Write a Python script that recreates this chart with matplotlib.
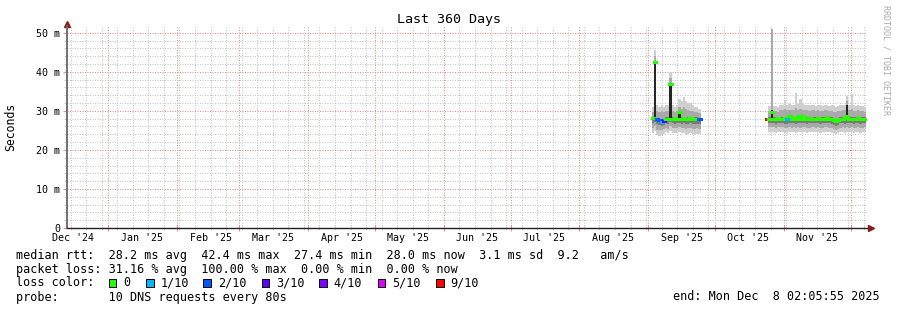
import numpy as np
import matplotlib.pyplot as plt
from matplotlib.patches import Rectangle
from matplotlib.transforms import blended_transform_factory
from datetime import datetime, timedelta

# time frame of the graph (360 days, ending Dec 8 2025)
t0 = datetime(2024, 12, 13, 10, 0)
t_end = t0 + timedelta(days=360)

# first block of data, one value per day
seg1_start = datetime(2025, 9, 2, 12, 0)
med1 = [28.1, 42.4, 27.8, 27.6, 27.2, 27.5, 28.0, 28.0, 36.9, 28.0, 28.1,
        28.0, 29.6, 28.0, 28.1, 28.0, 28.0, 28.1, 28.0, 28.0, 28.0, 27.9]
loss1 = [0, 0, 2, 2, 1, 3, 0, 0, 0, 0, 0, 0, 0, 0, 0, 0, 0, 0, 0, 0, 0, 2]
hi1 = [31.0, 45.6, 31.5, 31.0, 31.5, 31.0, 31.5, 31.5, 39.9, 31.5, 31.0,
       31.5, 33.0, 32.5, 33.5, 32.5, 32.0, 32.0, 31.5, 31.0, 31.0, 30.5]
mhi1 = [29.8, 44.0, 30.0, 29.8, 30.0, 29.8, 30.0, 30.0, 38.5, 30.0, 29.8,
        30.0, 31.0, 30.5, 31.0, 30.5, 30.2, 30.0, 30.0, 29.8, 29.8, 29.5]
dhi1 = [28.4, 42.4, 28.2, 28.0, 27.8, 28.0, 28.4, 28.4, 36.9, 28.4, 28.4,
        28.4, 29.6, 28.4, 28.4, 28.4, 28.4, 28.4, 28.4, 28.3, 28.3, 28.2]
dlo1 = [26.8, 27.2, 26.5, 26.3, 26.2, 26.4, 26.8, 26.7, 27.2, 26.8, 26.7,
        26.8, 27.0, 26.7, 26.8, 26.6, 26.7, 26.8, 26.7, 26.6, 26.7, 26.6]
mlo1 = [25.6, 26.0, 25.2, 25.0, 25.1, 25.3, 25.6, 25.4, 26.0, 25.6, 25.5,
        25.6, 25.8, 25.5, 25.6, 25.3, 25.5, 25.6, 25.4, 25.3, 25.5, 25.4]
lo1 = [24.4, 24.8, 23.8, 23.5, 23.7, 24.0, 24.5, 24.2, 24.8, 24.4, 24.2,
       24.3, 24.6, 24.2, 24.4, 23.9, 24.1, 24.3, 24.0, 23.8, 24.1, 24.0]
# darkest smoke (middle pings) where it shows above the median line
core1 = {1: (27.8, 42.4), 8: (27.9, 36.9), 12: (27.9, 29.6)}

# second block of data, one value per day
seg2_start = datetime(2025, 10, 24, 0, 0)
med2 = [28.0, 28.0, 29.7, 28.0, 28.0, 28.1, 28.0, 28.0, 28.1, 28.0,
        28.6, 28.0, 28.1, 28.0, 28.6, 28.0, 28.8, 28.0, 28.0, 28.1,
        28.0, 28.0, 28.0, 28.1, 28.0, 28.0, 28.0, 28.5, 28.0, 28.0,
        27.6, 27.4, 27.6, 28.0, 28.0, 28.1, 28.7, 28.0, 28.0, 28.0,
        28.0, 28.1, 28.0, 28.0, 28.0]
loss2 = [9, 0, 0, 0, 0, 0, 0, 0, 0, 1,
         0, 0, 0, 0, 0, 0, 0, 0, 0, 0,
         0, 0, 0, 0, 0, 0, 0, 0, 0, 0,
         0, 0, 0, 0, 0, 0, 0, 0, 0, 0,
         0, 0, 0, 0, 0]
hi2 = [28.0, 31.2, 50.9, 31.3, 31.2, 31.0, 31.4, 31.5, 32.7, 31.6,
       31.8, 31.5, 31.6, 34.5, 31.8, 33.0, 31.7, 31.5, 31.6, 31.4,
       31.5, 31.6, 31.3, 31.5, 31.4, 31.2, 31.6, 31.5, 31.3, 31.4,
       31.2, 31.0, 31.3, 31.4, 31.5, 31.6, 33.7, 31.5, 34.2, 31.4,
       31.3, 31.5, 31.2, 31.3, 31.1]
mhi2 = [28.0, 29.9, 50.9, 30.0, 29.9, 29.8, 30.1, 30.2, 30.4, 30.2,
        30.3, 30.1, 30.2, 30.6, 30.3, 30.4, 30.3, 30.1, 30.2, 30.0,
        30.1, 30.2, 30.0, 30.1, 30.0, 29.9, 30.2, 30.1, 30.0, 30.0,
        29.8, 29.7, 29.9, 30.0, 30.1, 30.2, 32.5, 30.1, 30.4, 30.0,
        29.9, 30.1, 29.9, 30.0, 29.8]
dhi2 = [28.0, 28.4, 30.2, 28.4, 28.4, 28.4, 28.4, 28.4, 28.5, 28.4,
        28.8, 28.4, 28.4, 28.5, 28.8, 28.4, 29.0, 28.4, 28.4, 28.4,
        28.4, 28.4, 28.4, 28.4, 28.4, 28.4, 28.4, 28.7, 28.4, 28.4,
        28.0, 27.9, 28.0, 28.4, 28.4, 28.4, 31.5, 28.4, 28.5, 28.4,
        28.4, 28.4, 28.4, 28.4, 28.3]
dlo2 = [28.0, 26.8, 27.0, 26.8, 26.7, 26.8, 26.9, 26.8, 26.7, 26.6,
        26.9, 26.8, 26.8, 26.7, 26.9, 26.8, 26.9, 26.8, 26.7, 26.8,
        26.8, 26.9, 26.8, 26.8, 26.7, 26.8, 26.8, 26.9, 26.8, 26.7,
        26.4, 26.2, 26.4, 26.8, 26.8, 26.7, 26.9, 26.8, 26.8, 26.7,
        26.8, 26.8, 26.7, 26.8, 26.8]
mlo2 = [28.0, 25.8, 25.9, 25.8, 25.7, 25.8, 25.9, 25.8, 25.6, 25.5,
        25.8, 25.7, 25.8, 25.6, 25.8, 25.7, 25.9, 25.8, 25.6, 25.7,
        25.8, 25.8, 25.7, 25.8, 25.6, 25.7, 25.8, 25.8, 25.7, 25.6,
        25.4, 25.2, 25.4, 25.7, 25.8, 25.6, 25.8, 25.7, 25.8, 25.6,
        25.7, 25.8, 25.6, 25.7, 25.8]
lo2 = [28.0, 24.6, 24.7, 24.5, 24.4, 24.6, 24.7, 24.5, 24.3, 24.2,
       24.6, 24.5, 24.6, 24.3, 24.6, 24.5, 24.7, 24.6, 24.4, 24.5,
       24.6, 24.6, 24.5, 24.6, 24.4, 24.5, 24.6, 24.6, 24.5, 24.4,
       24.2, 24.0, 24.2, 24.5, 24.6, 24.4, 24.6, 24.5, 24.6, 24.4,
       24.5, 24.6, 24.4, 24.5, 24.6]
core2 = {2: (28.0, 30.2), 36: (28.0, 31.5)}

loss_colors = {0: '#26ff00', 1: '#00b8ff', 2: '#0059ff', 3: '#5e00ff',
               4: '#7e00ff', 5: '#dd00ff', 9: '#ff0000'}
loss_labels = ['0', '1/10', '2/10', '3/10', '4/10', '5/10', '9/10']

legend_lines = [
    "median rtt:  28.2 ms avg  42.4 ms max  27.4 ms min  28.0 ms now  3.1 ms sd  9.2   am/s",
    "packet loss: 31.16 % avg  100.00 % max  0.00 % min  0.00 % now",
    "loss color:",
    "probe:       10 DNS requests every 80s",
]


def day(dt):
    return (dt - t0).total_seconds() / 86400.0


W, H = 897, 310
plt.rcParams['font.family'] = 'DejaVu Sans Mono'
fig = plt.figure(figsize=(W / 100, H / 100), dpi=100)
ax = fig.add_axes([67 / W, (H - 228) / H, 800 / W, 202 / H])
ax.set_xlim(0, 360)
ax.set_ylim(0, 202 / 3.906)


def draw_segment(start, med, loss, lo, mlo, dlo, dhi, mhi, hi, core):
    n = len(med)
    x = day(start) + np.arange(n + 1)
    for a, b, c in [(lo, hi, '#cfcfcf'), (mlo, mhi, '#a9a9a9'), (dlo, dhi, '#7a7a7a')]:
        a = np.append(a, a[-1])
        b = np.append(b, b[-1])
        ax.fill_between(x, a, b, step='post', color=c, lw=0, zorder=2)
    for i, (a, b) in core.items():
        ax.fill_between([x[i], x[i + 1]], a, b, color='#262626', lw=0, zorder=2.5)
    lc = ax.hlines(med, x[:-1], x[1:], colors=[loss_colors[l] for l in loss],
                   lw=2.2, zorder=3)
    lc.set_capstyle('projecting')


draw_segment(seg1_start, med1, loss1, lo1, mlo1, dlo1, dhi1, mhi1, hi1, core1)
draw_segment(seg2_start, med2, loss2, lo2, mlo2, dlo2, dhi2, mhi2, hi2, core2)

# grid: months (red) and weeks (gray)
months = [datetime(2025, m, 1) for m in range(1, 13)]
weeks = []
w = datetime(2024, 12, 15)
while w < t_end:
    weeks.append(w)
    w += timedelta(days=7)
ax.set_xticks([day(m) for m in months])
ax.set_xticks([day(w) for w in weeks], minor=True)
ax.set_yticks(np.arange(0, 51, 10))
ax.set_yticks(np.arange(0, 51, 2), minor=True)
ax.set_yticklabels(['0'] + ['%d m' % v for v in range(10, 51, 10)])
ax.tick_params(axis='x', which='both', labelbottom=False)
ax.tick_params(axis='x', which='major', length=4, direction='inout', color='#f09090')
ax.tick_params(axis='x', which='minor', length=3, direction='inout', color='#c8c8c8')
ax.tick_params(axis='y', which='major', length=3, color='#f09090', pad=2, labelsize=7.2)
ax.tick_params(axis='y', which='minor', length=2, color='#c8c8c8')
ax.set_axisbelow(True)
ax.grid(which='minor', color='#c4c4c4', lw=0.72, ls=(0, (1, 1.5)))
ax.grid(which='major', color='#f08a8a', lw=0.72, ls=(0, (1, 1.5)))

for s in ['top', 'right']:
    ax.spines[s].set_visible(False)
ax.spines['left'].set_color('#666666')
ax.spines['left'].set_linewidth(1.3)
ax.spines['bottom'].set_color('#222222')
ax.spines['bottom'].set_linewidth(1.0)
ax.spines['left'].set_zorder(5)
ax.spines['bottom'].set_zorder(5)

# arrows at the ends of the axes
ax.plot([1 + 4 / 800], [0], marker='>', ms=4.5, color='#8b1a1a', mec='#8b1a1a',
        transform=ax.transAxes, clip_on=False)
ax.plot([0], [1 + 2 / 202], marker='^', ms=4.5, color='#8b1a1a', mec='#8b1a1a',
        transform=ax.transAxes, clip_on=False)

# month labels, placed mid-month
tr = blended_transform_factory(ax.transData, fig.transFigure)
for m in [datetime(2024, 12, 1)] + months[:-1]:
    fig.text(day(m) + 15, 1 - 241 / H, m.strftime("%b '%y"), transform=tr,
             ha='center', va='baseline', fontsize=7.2)

fig.text(0.5, 1 - 19 / H, 'Last 360 Days', ha='center', va='center', fontsize=9.6)
fig.text(11 / W, 1 - 127 / H, 'Seconds', rotation=90, ha='center', va='center', fontsize=8.3)
fig.text(886 / W, 1 - 60 / H, 'RRDTOOL / TOBI OETIKER', rotation=270, ha='center',
         va='center', fontsize=6, color='#aaaaaa')

# legend block
for i, line in enumerate(legend_lines):
    fig.text(16 / W, 1 - (258.5 + 14 * i) / H, line, ha='left', va='baseline', fontsize=8.5)

box_x = [108.7, 146, 203.3, 261.7, 319.3, 377.7, 436]
for bx, lab, lv in zip(box_x, loss_labels, [0, 1, 2, 3, 4, 5, 9]):
    fig.add_artist(Rectangle((bx / W, 1 - 287 / H), 7.5 / W, 8 / H, facecolor=loss_colors[lv],
                             edgecolor='black', lw=0.7, transform=fig.transFigure))
    fig.text((bx + 14.5) / W, 1 - 286.5 / H, lab, ha='left', va='baseline', fontsize=8.5)

fig.text(880 / W, 1 - 300.5 / H, 'end: Mon Dec  8 02:05:55 2025', ha='right',
         va='baseline', fontsize=8.5)

fig.savefig('out.png', dpi=100, facecolor='white')
